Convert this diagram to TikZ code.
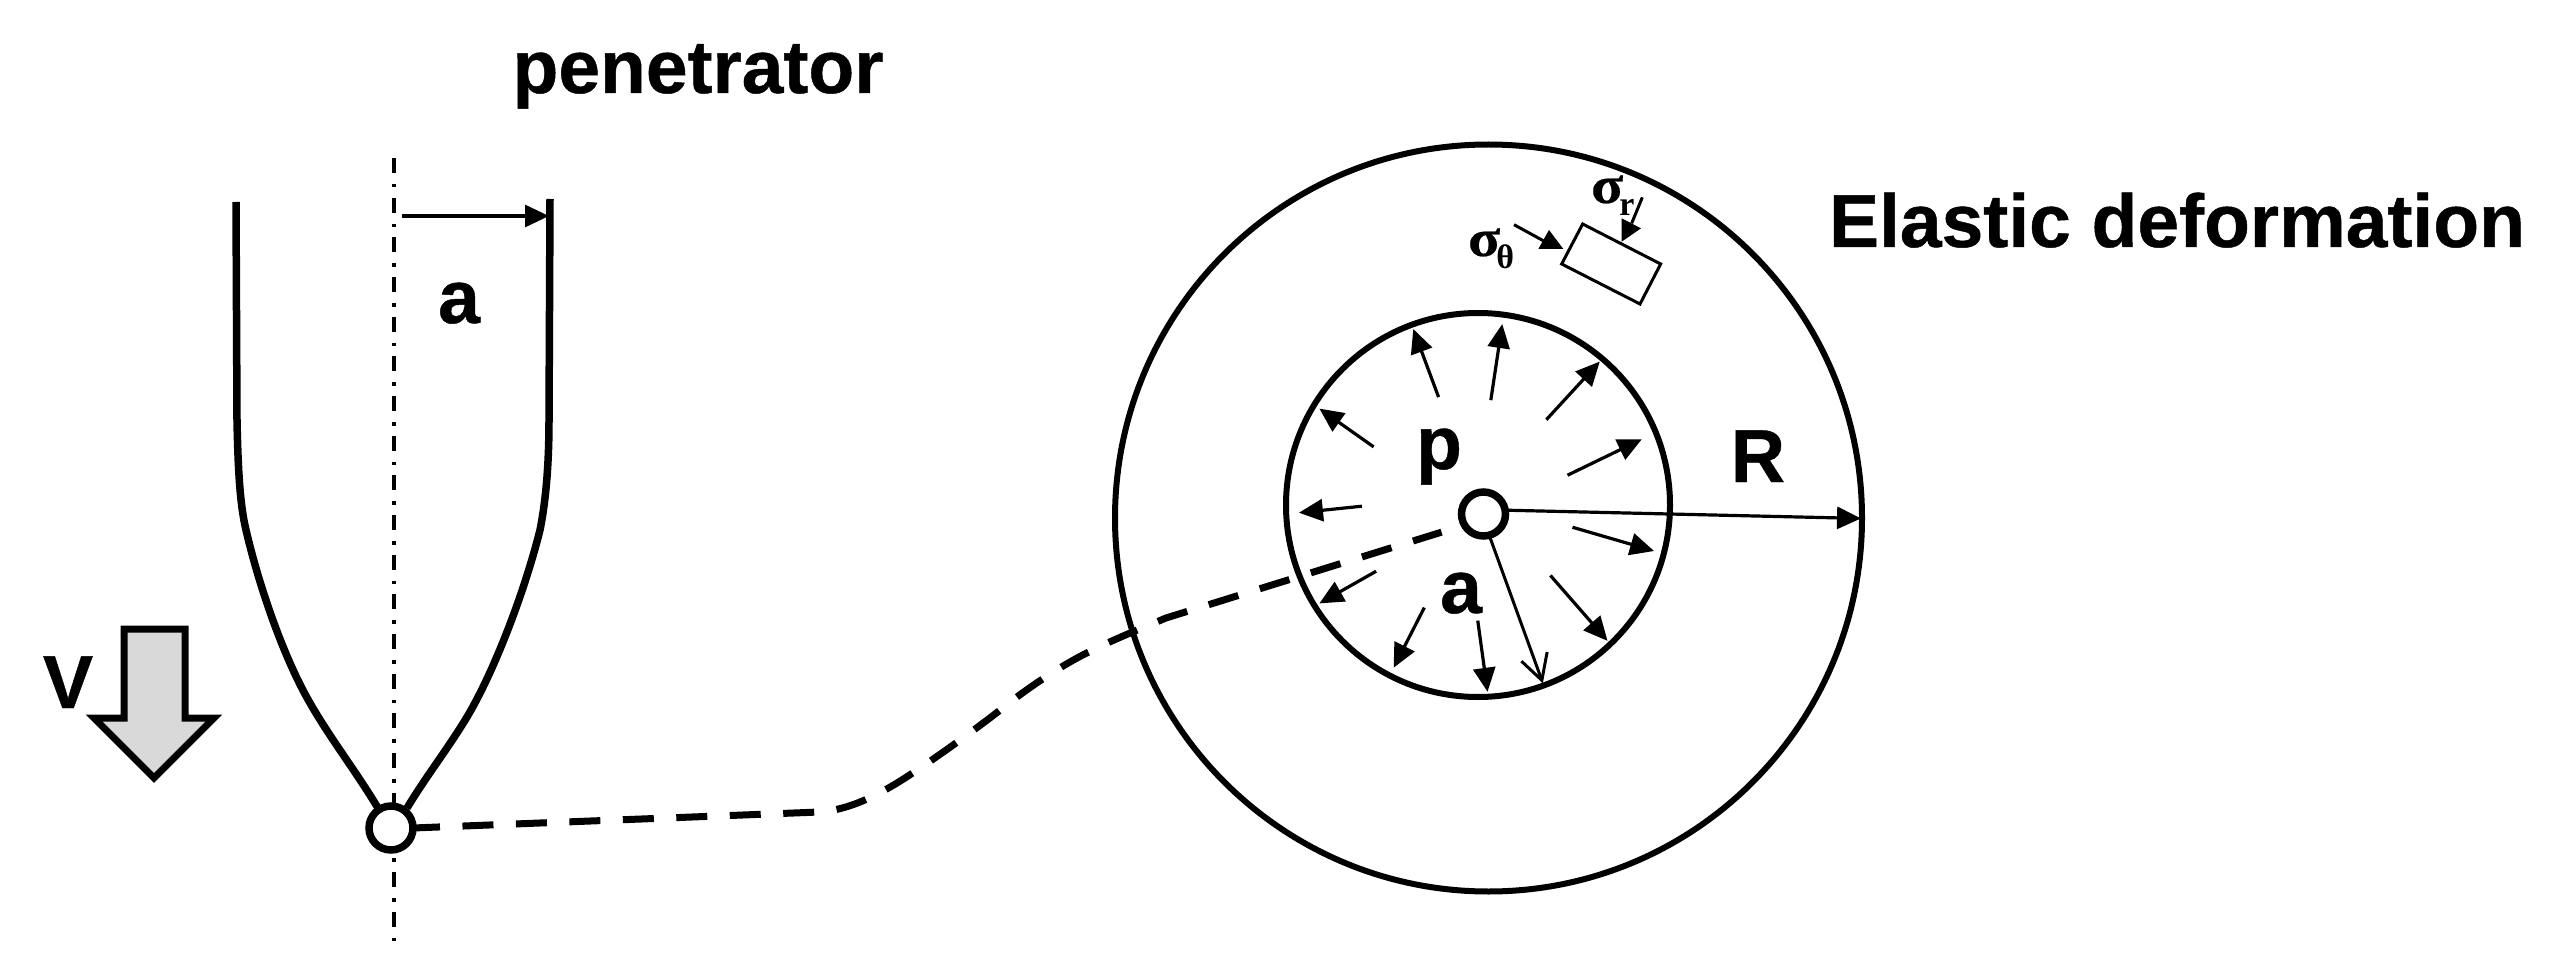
\documentclass[tikz,border=0pt]{standalone}
\usepackage{fontspec}
\usetikzlibrary{arrows.meta}
\setmainfont[BoldFeatures={FakeBold=0.6}]{Liberation Sans}
\newfontfamily\greekbold[BoldFont={Liberation Serif Bold},BoldFeatures={FakeBold=0.4,FakeStretch=1.12}]{Liberation Serif}
\newfontfamily\greeksub[BoldFont={Liberation Serif Bold}]{Liberation Serif}
\tikzset{
  big/.style={font=\fontsize{75}{75}\selectfont\bfseries, inner sep=0pt, outer sep=0pt, anchor=base},
  stress/.style={font=\fontsize{53}{53}\selectfont\greekbold\bfseries, inner sep=0pt, outer sep=0pt, anchor=base west},
  ring/.style={circle, draw=black, line width=6pt, inner sep=0pt, outer sep=0pt},
  hubnode/.style={circle, draw=black, fill=white, line width=7.5pt, minimum size=44pt, inner sep=0pt, outer sep=0pt},
  wall/.style={line width=7.5pt, line join=round},
  axisline/.style={line width=4pt, dash pattern=on 15pt off 11pt on 3.5pt off 10.17pt},
  link/.style={line width=7pt, dash pattern=on 31pt off 22.5pt, dash phase=4pt},
  press/.style={line width=3.2pt, -{Triangle[length=24pt,width=22pt]}},
  stressshaft/.style={line width=3pt},
  stresshead/.style={fill=black, draw=none},
}
\newcommand{\lowsub}[1]{\kern-4pt\raisebox{-12.5pt}{\fontsize{34}{34}\greeksub\bfseries\selectfont #1}}
\begin{document}
\begin{tikzpicture}[x=1pt,y=-1pt]
\useasboundingbox[fill=white] (0,0) rectangle (2552,976);
% axis
\draw[axisline] (394,158) -- (394,942);
% penetrator walls
\draw[wall] (236,202) -- (237,420) .. controls (238,470) and (240,505) .. (246,530)
  .. controls (260,590) and (285,660) .. (310,703) .. controls (330,738) and (355,770) .. (378,808);
\draw[wall] (550,199) -- (549,420) .. controls (549,470) and (545,505) .. (540,530)
  .. controls (525,590) and (495,670) .. (467,717) .. controls (447,750) and (427,775) .. (407,808);
% rings
\node[ring, minimum size=747pt] (outerring) at (1488.5,518) {};
\node[ring, minimum size=384pt] (innerring) at (1478,505) {};
% radial stress arrows, in the coordinates of the enlarged view
\begin{scope}[shift={(1250,130)}, x=0.40816pt, y=-0.38270pt]
  \draw[press] (462,698) -- (400,520);
  \draw[press] (590,706) -- (618,507);
  \draw[press] (726,757) -- (857,605);
  \draw[press] (778,902) -- (960,808);
  \draw[press] (790,1038) -- (990,1100);
  \draw[press] (736,1164) -- (876,1335);
  \draw[press] (558,1282) -- (582,1468);
  \draw[press] (427,1248) -- (352,1405);
  \draw[press] (309,1153) -- (170,1237);
  \draw[press] (274,983) -- (120,1000);
  \draw[press] (303,828) -- (170,728);
  % radius arrows
  \coordinate (Rtip) at (1497,1015);
  \coordinate (atip) at (715,1438);
  \coordinate (abarbA) at (665,1388);
  \coordinate (abarbB) at (728,1364);
\end{scope}
% stress element, in the coordinates of the second enlarged view
\begin{scope}[shift={(1440,150)}, x=0.33333pt, y=-0.33333pt]
  \draw[line width=3pt, line join=miter] (428,222) -- (662,342) -- (600,462) -- (365,342) -- cycle;
  \draw[stressshaft] (222,224) -- (315,275);
  \fill[stresshead] (370,297) -- (295,297) -- (327,240) -- cycle;
  \draw[stressshaft] (607,142) -- (575,220);
  \fill[stresshead] (545,275) -- (545,205) -- (603,235) -- cycle;
\end{scope}
\node[stress] (sigmatheta) at (1468,256) {σ\lowsub{θ}};
\node[stress] (sigmar) at (1591,203) {σ\lowsub{r}};
% circles on tip and at centre
\node[hubnode] (tip) at (391,828) {};
\node[hubnode] (hub) at (1483.5,514) {};
\draw[press] (hub.10) -- (Rtip);
\draw[line width=3pt] (hub.-75) -- (atip);
\draw[line width=3pt] (abarbA) -- (atip) -- (abarbB);
% connector
\draw[link, shorten >=24pt] (tip.east) -- (819,812)
  .. controls (850,810) and (880,794) .. (905,778)
  .. controls (930,762) and (975,730) .. (1004,707)
  .. controls (1020,694) and (1060,665) .. (1095,649)
  .. controls (1115,639) and (1135,631) .. (1166,618) -- (hub.210);
% dimension a
\coordinate (dimstart) at (402,216);
\coordinate (dimend) at (549,216);
\draw[press] (dimstart) -- (dimend);
% velocity arrow
\draw[line width=7pt, fill=black!15, miter limit=10]
  (124,629) -- (185,629) -- (185,718) -- (214,718) -- (154,778) -- (94,718) -- (124,718) -- cycle;
% labels
\node[big] (penetrator) at (698,93) {penetrator};
\node[big] (elastic) at (2177,247) {Elastic deformation};
\node[big] (aleft) at (459,323) {a};
\node[big] (vlabel) at (68,708) {V};
\node[big] (plabel) at (1439,469) {p};
\node[big] (rlabel) at (1758,482) {R};
\node[big] (aright) at (1461,613) {a};
\end{tikzpicture}
\end{document}
